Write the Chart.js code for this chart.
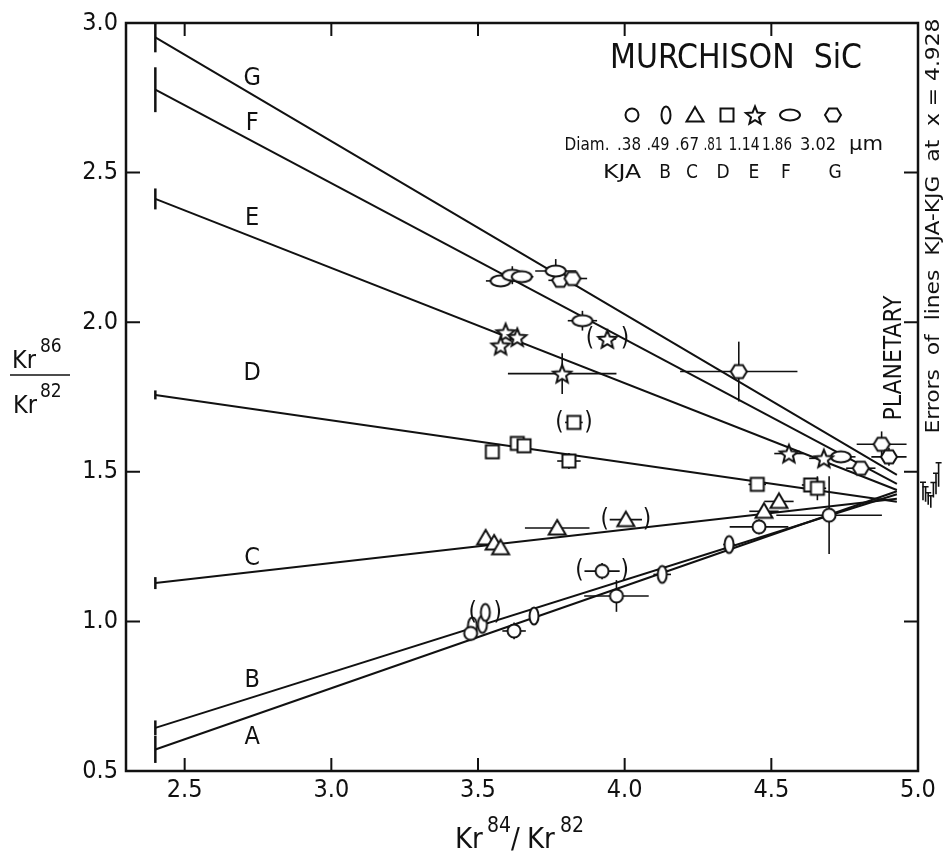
<!DOCTYPE html>
<html>
<head>
<meta charset="utf-8">
<script src="https://cdn.jsdelivr.net/npm/chart.js@4.4.0/dist/chart.umd.min.js"></script>
<style>
  html, body { margin: 0; padding: 0; background: #fff; }
  #wrap { width: 943px; height: 854px; }
</style>
</head>
<body>
<div id="wrap"><canvas id="chart" width="943" height="854"></canvas></div>
<script>
// ---- data ----
const xTicks = [2.5, 3.0, 3.5, 4.0, 4.5, 5.0];
const yTicks = [0.5, 1.0, 1.5, 2.0, 2.5, 3.0];

// regression lines KJA..KJG, from x=2.4 to x=4.928
const lineNames = ['A', 'B', 'C', 'D', 'E', 'F', 'G'];
const lineX = [2.4, 4.928];
const lineStartY = [0.572, 0.644, 1.128, 1.757, 2.412, 2.777, 2.952];
const lineEndY = [1.435, 1.425, 1.410, 1.400, 1.439, 1.460, 1.490];
const lineStartErr = [0.045, 0.025, 0.02, 0.015, 0.035, 0.075, 0.05];
const lineEndErr = [0.03, 0.025, 0.02, 0.02, 0.025, 0.035, 0.04];

// key
const diamLabels = ['.38', '.49', '.67', '.81', '1.14', '1.86', '3.02'];
const kjLabels = ['KJA', 'B', 'C', 'D', 'E', 'F', 'G'];

// KJA (0.38 um) circles
const kjaX = [3.475, 3.623, 3.923, 3.972, 4.458, 4.697];
const kjaY = [0.960, 0.968, 1.168, 1.085, 1.316, 1.355];
const kjaXErr = [0, 0.04, 0.06, 0.11, 0.10, 0.18];
const kjaYErr = [0, 0.028, 0.027, 0.053, 0.025, 0.13];
const kjaParen = [0, 0, 1, 0, 0, 0];

// KJB (0.49 um) tall ellipses
const kjbX = [3.481, 3.515, 3.525, 3.691, 4.128, 4.356];
const kjbY = [0.985, 0.990, 1.030, 1.018, 1.157, 1.257];
const kjbXErr = [0, 0, 0, 0, 0.03, 0.02];
const kjbYErr = [0, 0, 0, 0, 0, 0];
const kjbParen = [0, 0, 1, 0, 0, 0];

// KJC (0.67 um) triangles
const kjcX = [3.526, 3.555, 3.577, 3.770, 4.004, 4.475, 4.526];
const kjcY = [1.279, 1.262, 1.246, 1.312, 1.340, 1.368, 1.401];
const kjcXErr = [0, 0, 0, 0.11, 0.055, 0.05, 0.05];
const kjcYErr = [0, 0, 0, 0, 0, 0, 0];
const kjcParen = [0, 0, 0, 0, 1, 0, 0];

// KJD (0.81 um) squares
const kjdX = [3.549, 3.634, 3.657, 3.810, 3.827, 4.452, 4.634, 4.657];
const kjdY = [1.567, 1.595, 1.587, 1.536, 1.665, 1.458, 1.456, 1.445];
const kjdXErr = [0, 0, 0, 0.04, 0.03, 0.03, 0.03, 0.03];
const kjdYErr = [0, 0, 0, 0.027, 0, 0, 0, 0.04];
const kjdParen = [0, 0, 0, 0, 1, 0, 0, 0];

// KJE (1.14 um) stars
const kjeX = [3.594, 3.634, 3.577, 3.787, 3.941, 4.560, 4.679];
const kjeY = [1.966, 1.950, 1.922, 1.828, 1.944, 1.561, 1.545];
const kjeXErr = [0, 0, 0, 0.185, 0.03, 0.05, 0.05];
const kjeYErr = [0, 0, 0, 0.068, 0, 0, 0];
const kjeParen = [0, 0, 0, 0, 1, 0, 0];

// KJF (1.86 um) flat ellipses
const kjfX = [3.577, 3.617, 3.649, 3.765, 3.856, 4.737];
const kjfY = [2.138, 2.157, 2.152, 2.171, 2.005, 1.550];
const kjfXErr = [0.05, 0.04, 0.04, 0.07, 0.05, 0.05];
const kjfYErr = [0, 0.03, 0, 0.04, 0.033, 0];
const kjfParen = [0, 0, 0, 0, 0, 0];

// KJG (3.02 um) hexagons
const kjgX = [3.780, 3.822, 4.389, 4.805, 4.876, 4.901];
const kjgY = [2.140, 2.146, 1.835, 1.512, 1.592, 1.550];
const kjgXErr = [0.04, 0.05, 0.20, 0.05, 0.085, 0.06];
const kjgYErr = [0, 0, 0.10, 0, 0.043, 0.03];
const kjgParen = [0, 0, 0, 0, 0, 0];

// ---- styling ----
const FONT = "'Liberation Sans Narrow', 'DejaVu Sans Condensed', 'Liberation Sans', sans-serif";
const INK = '#111';

function makeSymbol(kind) {
    const c = document.createElement('canvas');
    c.width = 26; c.height = 26;
    const g = c.getContext('2d');
    const cx = 13, cy = 13;
    g.lineWidth = 2; g.strokeStyle = INK; g.fillStyle = '#fff';
    g.beginPath();
    if (kind === 'circle') {
        g.arc(cx, cy, 6.5, 0, Math.PI * 2);
    } else if (kind === 'tall') {
        g.ellipse(cx, cy, 4.5, 8.5, 0, 0, Math.PI * 2);
    } else if (kind === 'tri') {
        g.moveTo(cx, cy - 8); g.lineTo(cx + 8.5, cy + 6.5); g.lineTo(cx - 8.5, cy + 6.5); g.closePath();
    } else if (kind === 'square') {
        g.rect(cx - 6.5, cy - 6.5, 13, 13);
    } else if (kind === 'star') {
        for (let i = 0; i < 10; i++) {
            const r = i % 2 === 0 ? 9.5 : 4.2;
            const a = -Math.PI / 2 + i * Math.PI / 5;
            const px = cx + r * Math.cos(a), py = cy + 1 + r * Math.sin(a);
            if (i === 0) g.moveTo(px, py); else g.lineTo(px, py);
        }
        g.closePath();
    } else if (kind === 'flat') {
        g.ellipse(cx, cy, 10, 5.5, 0, 0, Math.PI * 2);
    } else if (kind === 'hex') {
        for (let i = 0; i < 6; i++) {
            const a = i * Math.PI / 3;
            const px = cx + 8 * Math.cos(a), py = cy + 7.5 * Math.sin(a);
            if (i === 0) g.moveTo(px, py); else g.lineTo(px, py);
        }
        g.closePath();
    }
    g.fill(); g.stroke();
    return c;
}

const symKinds = ['circle', 'tall', 'tri', 'square', 'star', 'flat', 'hex'];
const symHalf = [6.5, 4.5, 8.5, 6.5, 9.5, 10, 8];

const groups = [
    { x: kjaX, y: kjaY, xe: kjaXErr, ye: kjaYErr, p: kjaParen },
    { x: kjbX, y: kjbY, xe: kjbXErr, ye: kjbYErr, p: kjbParen },
    { x: kjcX, y: kjcY, xe: kjcXErr, ye: kjcYErr, p: kjcParen },
    { x: kjdX, y: kjdY, xe: kjdXErr, ye: kjdYErr, p: kjdParen },
    { x: kjeX, y: kjeY, xe: kjeXErr, ye: kjeYErr, p: kjeParen },
    { x: kjfX, y: kjfY, xe: kjfXErr, ye: kjfYErr, p: kjfParen },
    { x: kjgX, y: kjgY, xe: kjgXErr, ye: kjgYErr, p: kjgParen },
];
groups.forEach((gr, i) => { gr.sym = makeSymbol(symKinds[i]); gr.half = symHalf[i]; });

const datasets = [];
groups.forEach((gr, i) => {
    datasets.push({
        type: 'scatter',
        label: 'KJ' + lineNames[i],
        data: gr.x.map((v, k) => ({ x: v, y: gr.y[k] })),
        pointStyle: gr.sym,
        pointRadius: 8,
        order: 0,
    });
});
lineNames.forEach((n, i) => {
    datasets.push({
        type: 'line',
        label: 'line ' + n,
        data: [{ x: lineX[0], y: lineStartY[i] }, { x: lineX[1], y: lineEndY[i] }],
        borderColor: INK,
        borderWidth: 2,
        pointRadius: 0,
        fill: false,
        order: 1,
    });
});

// line letters sit at x = 2.73, shifted by these pixel offsets
const labelAt = 2.73;
const labelDy = [22, -17, -14, -35, -18, -18, -16];

function fitText(g, text, x, y, width, size, angle, align) {
    g.save();
    g.font = size + 'px ' + FONT;
    g.textAlign = align || 'center';
    g.textBaseline = 'alphabetic';
    g.translate(x, y);
    if (angle) g.rotate(angle);
    if (width) {
        const w = g.measureText(text).width;
        g.scale(width / w, 1);
    }
    g.fillText(text, 0, 0);
    g.restore();
}

const errorBars = {
    id: 'errorBars',
    beforeDatasetsDraw(chart) {
        const g = chart.ctx, xs = chart.scales.x, ys = chart.scales.y;
        g.save();
        g.strokeStyle = INK; g.lineWidth = 1.6;
        groups.forEach(gr => {
            gr.x.forEach((v, k) => {
                const px = xs.getPixelForValue(v), py = ys.getPixelForValue(gr.y[k]);
                if (gr.xe[k]) {
                    g.beginPath();
                    g.moveTo(xs.getPixelForValue(v - gr.xe[k]), py);
                    g.lineTo(xs.getPixelForValue(v + gr.xe[k]), py);
                    g.stroke();
                }
                if (gr.ye[k]) {
                    g.beginPath();
                    g.moveTo(px, ys.getPixelForValue(gr.y[k] - gr.ye[k]));
                    g.lineTo(px, ys.getPixelForValue(gr.y[k] + gr.ye[k]));
                    g.stroke();
                }
            });
        });
        // error of each line at its left end
        g.lineWidth = 2.5;
        lineStartY.forEach((v, i) => {
            const px = xs.getPixelForValue(lineX[0]);
            g.beginPath();
            g.moveTo(px, ys.getPixelForValue(v - lineStartErr[i]));
            g.lineTo(px, ys.getPixelForValue(v + lineStartErr[i]));
            g.stroke();
        });
        g.restore();
    }
};

const decorations = {
    id: 'decorations',
    afterDraw(chart) {
        const g = chart.ctx, xs = chart.scales.x, ys = chart.scales.y;
        const a = chart.chartArea;
        g.save();
        g.fillStyle = INK; g.strokeStyle = INK;

        // frame
        g.lineWidth = 2.5;
        g.strokeRect(a.left, a.top, a.right - a.left, a.bottom - a.top);
        // inward ticks
        g.lineWidth = 2;
        xTicks.forEach(v => {
            const px = xs.getPixelForValue(v);
            g.beginPath();
            g.moveTo(px, a.bottom); g.lineTo(px, a.bottom - 13);
            g.moveTo(px, a.top); g.lineTo(px, a.top + 13);
            g.stroke();
        });
        yTicks.forEach(v => {
            const py = ys.getPixelForValue(v);
            g.beginPath();
            g.moveTo(a.left, py); g.lineTo(a.left + 14, py);
            g.moveTo(a.right, py); g.lineTo(a.right - 14, py);
            g.stroke();
        });

        // parentheses around doubtful points
        groups.forEach(gr => {
            gr.p.forEach((flag, k) => {
                if (!flag) return;
                const px = xs.getPixelForValue(gr.x[k]), py = ys.getPixelForValue(gr.y[k]);
                const errPx = gr.xe[k] ? xs.getPixelForValue(gr.x[k] + gr.xe[k]) - px : 0;
                const d = Math.max(gr.half + 8, errPx + 5);
                g.font = '24px ' + FONT;
                g.textAlign = 'center'; g.textBaseline = 'middle';
                g.fillText('(', px - d, py);
                g.fillText(')', px + d, py);
            });
        });

        // line letters
        lineNames.forEach((n, i) => {
            const t = (labelAt - lineX[0]) / (lineX[1] - lineX[0]);
            const yv = lineStartY[i] + t * (lineEndY[i] - lineStartY[i]);
            const px = xs.getPixelForValue(labelAt), py = ys.getPixelForValue(yv) + labelDy[i];
            g.font = '25px ' + FONT;
            g.textAlign = 'center'; g.textBaseline = 'middle';
            g.fillText(n, px, py);
        });

        // errors of the lines at x = 4.928, drawn as a small comb outside the frame
        g.lineWidth = 1.6;
        lineEndY.forEach((v, i) => {
            const px = a.right + 5 + i * 2.6;
            const y0 = ys.getPixelForValue(v - lineEndErr[i]), y1 = ys.getPixelForValue(v + lineEndErr[i]);
            g.beginPath();
            g.moveTo(px, y0); g.lineTo(px, y1);
            g.moveTo(px - 3, y1); g.lineTo(px + 3, y1);
            g.stroke();
        });

        // title and key
        fitText(g, 'MURCHISON  SiC', 736, 68, 252, 34);
        const symX = [632, 666, 695, 727, 755, 790, 833];
        groups.forEach((gr, i) => {
            const s = gr.sym;
            g.drawImage(s, symX[i] - s.width / 2, 115 - s.height / 2);
        });
        fitText(g, 'Diam.', 587, 150, 45, 18);
        const diamX = [629, 658, 687, 713, 744, 777, 818];
        const diamW = [24, 23, 24, 19, 31, 30, 36];
        diamLabels.forEach((t, i) => fitText(g, t, diamX[i], 150, diamW[i], 18));
        fitText(g, '\u03bcm', 866, 150, 34, 19);
        const kjX = [622, 665, 692, 723, 754, 786, 835];
        kjLabels.forEach((t, i) => fitText(g, t, kjX[i], 178, i === 0 ? 38 : null, 19));

        // rotated side notes
        fitText(g, 'PLANETARY', 901, 358, 125, 24, -Math.PI / 2);
        fitText(g, 'Errors  of  lines  KJA-KJG  at  x = 4.928', 939, 226, 415, 20, -Math.PI / 2);

        // y axis title: Kr86 / Kr82
        g.textAlign = 'left'; g.textBaseline = 'alphabetic';
        g.font = '25px ' + FONT;
        g.fillText('Kr', 12, 368);
        g.fillText('Kr', 13, 413);
        g.font = '19px ' + FONT;
        g.fillText('86', 40, 352);
        g.fillText('82', 40, 397);
        g.lineWidth = 1.5;
        g.beginPath(); g.moveTo(10, 375); g.lineTo(70, 375); g.stroke();

        // x axis title: Kr84 / Kr82
        g.font = '29px ' + FONT;
        g.fillText('Kr', 455, 848);
        g.fillText('/', 511, 848);
        g.fillText('Kr', 527, 848);
        g.font = '21px ' + FONT;
        g.fillText('84', 487, 832);
        g.fillText('82', 560, 832);
        g.restore();
    }
};

const ctx = document.getElementById('chart').getContext('2d');
new Chart(ctx, {
    type: 'scatter',
    data: { datasets },
    options: {
        responsive: false,
        animation: false,
        layout: { padding: { top: 19, right: 25, left: 0, bottom: 0 } },
        plugins: { legend: { display: false }, tooltip: { enabled: false } },
        scales: {
            x: {
                type: 'linear', min: 2.3, max: 5.0,
                afterBuildTicks: s => { s.ticks = xTicks.map(v => ({ value: v })); },
                afterFit: s => { s.height = 83; },
                grid: { display: false, drawTicks: false },
                border: { display: false },
                ticks: {
                    color: INK, padding: 4, maxRotation: 0, autoSkip: false,
                    font: { family: FONT, size: 25 },
                    callback: v => v.toFixed(1),
                },
            },
            y: {
                type: 'linear', min: 0.5, max: 3.0,
                afterBuildTicks: s => { s.ticks = yTicks.map(v => ({ value: v })); },
                afterFit: s => { s.width = 126; },
                grid: { display: false, drawTicks: false },
                border: { display: false },
                ticks: {
                    color: INK, padding: 8, autoSkip: false,
                    font: { family: FONT, size: 25 },
                    callback: v => v.toFixed(1),
                },
            },
        },
    },
    plugins: [errorBars, decorations],
});
</script>
</body>
</html>
